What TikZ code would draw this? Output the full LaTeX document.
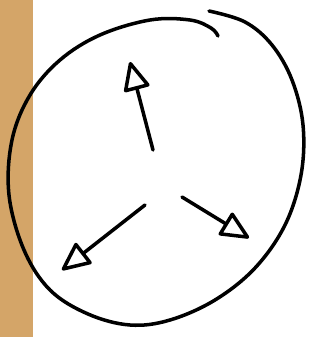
\documentclass[tikz,border=0pt]{standalone}
\usetikzlibrary{arrows.meta}
\definecolor{woodtan}{RGB}{212,165,104}

\begin{document}
\begin{tikzpicture}[x=0.02cm, y=-0.02cm,
    stroke/.style={draw=black, line width=2pt, line cap=round, line join=round},
    ray/.style={stroke, -{Triangle[open, length=0.62cm, width=0.55cm, line width=2pt, round]}}
]
    \useasboundingbox (0,0) rectangle (325,337);
    % Left bar
    \fill[woodtan] (0,0) rectangle (33,337);

    % Hand-drawn ring (open at the top)
    \draw[stroke]
        plot[smooth, tension=0.6] coordinates {(209,11) (245,22) (272,45) (292,80) (303,125)
        (301,175) (285,225) (255,268) (215,300) (170,320) (130,325) (88,314) (50,290)
        (24,250) (9,195) (12,140) (30,95) (60,60) (100,35) (150,20) (190,20) (211,28) (218,36)};

    % Centre ends and tips of the three rays
    \coordinate (t1) at (153,150);
    \coordinate (h1) at (130,62);
    \coordinate (t2) at (145,205);
    \coordinate (h2) at (62,270);
    \coordinate (t3) at (182,197);
    \coordinate (h3) at (249,238);

    \draw[ray] (t1) -- (h1);
    \draw[ray] (t2) -- (h2);
    \draw[ray] (t3) -- (h3);
\end{tikzpicture}
\end{document}
